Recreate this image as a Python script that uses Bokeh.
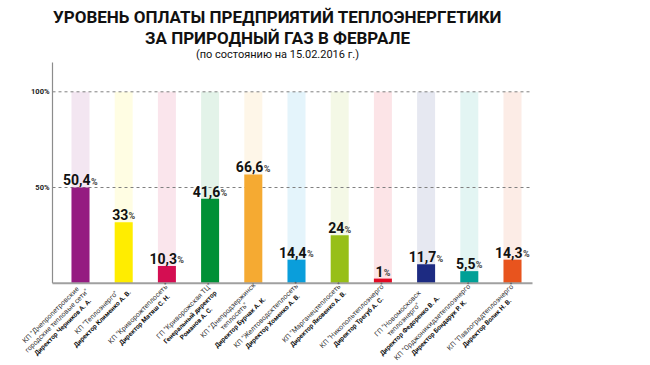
import math
from bokeh.plotting import figure
from bokeh.models import Range1d
from bokeh.core.properties import value
from bokeh.embed import file_html
from bokeh.resources import INLINE

# ---------------- data ----------------
company_lines = [
    ['КП "Днепропетровские', 'городские тепловые сети"'],
    ['КП "Теплоэнерго"'],
    ['КП "Криворожтеплосеть"'],
    ['ГП "Криворожская ТЦ"'],
    ['КП "Днепродзержинск', 'теплосеть"'],
    ['КП "Желтоводсктеплосеть"'],
    ['КП "Марганецтеплосеть"'],
    ['КП "Никопольтеплоэнерго"'],
    ['ГП "Новомосковск', 'теплоэнерго"'],
    ['КП "Орджоникидзетеплоэнерго"'],
    ['КП "Павлоградтеплоэнерго"'],
]
director_lines = [
    ['Директор Черников А. А.'],
    ['Директор Клименко А. В.'],
    ['Директор Матяш С. Н.'],
    ['Генеральный директор', 'Романов А. С.'],
    ['Директор Бурчак А. К.'],
    ['Директор Хоменко А. В.'],
    ['Директор Яковенко А. В.'],
    ['Директор Трегуб А. С.'],
    ['Директор Федоренко В. А.'],
    ['Директор Бондарук Р. К.'],
    ['Директор Волик Н. В.'],
]
value_labels = ["50,4", "33", "10,3", "41,6", "66,6", "14,4", "24", "1", "11,7", "5,5", "14,3"]
# bar heights as drawn in the picture (percent of the 100% line)
bar_levels = [50.0, 31.9, 9.0, 44.1, 56.8, 12.3, 25.0, 2.4, 9.9, 6.3, 12.3]
bar_colors = ["#951B81", "#FFED00", "#D40E52", "#009036", "#F5AA32", "#0A9EDB",
              "#97BF18", "#E30A24", "#1D2B82", "#00A096", "#E8541E"]
y_ticks = [50, 100]
y_tick_labels = ["50%", "100%"]
title_lines = ["УРОВЕНЬ ОПЛАТЫ ПРЕДПРИЯТИЙ ТЕПЛОЭНЕРГЕТИКИ", "ЗА ПРИРОДНЫЙ ГАЗ В ФЕВРАЛЕ"]
subtitle = "(по состоянию на 15.02.2016 г.)"

# ---------------- layout ----------------
W, H = 650, 365
PAGE_OFF = 0
X0_PAGE, PX_X = 80.0, 43.2      # page x of first bar, px per category
Y0_PAGE, PX_Y = 282.7, 1.914    # page y of 0 %, px per percent

def dx(px):
    return px / PX_X

def dy(px):
    return px / PX_Y

def xp(page_x):
    return (page_x - X0_PAGE) / PX_X

def yp(page_y):
    return (Y0_PAGE - page_y) / PX_Y

x_start = xp(PAGE_OFF)
x_end = x_start + W / PX_X
y_end = yp(PAGE_OFF)
y_start = y_end - H / PX_Y

p = figure(width=W, height=H, x_range=Range1d(x_start, x_end), y_range=Range1d(y_start, y_end),
           output_backend="svg", toolbar_location=None, min_border=0,
           x_axis_location=None, y_axis_location=None)
p.grid.visible = False
p.outline_line_color = None
p.background_fill_color = "white"

n = len(bar_levels)
xs = list(range(n))
bar_w = 18 / PX_X
axis_x = xp(52)
axis_end = xp(532)

# background columns up to 100 %
p.vbar(x=xs, bottom=0, top=[100] * n, width=bar_w, fill_color=bar_colors, fill_alpha=0.11, line_color=None)

# dashed reference lines
p.segment(x0=[axis_x] * len(y_ticks), y0=y_ticks, x1=[axis_end] * len(y_ticks), y1=y_ticks,
          line_color="#808080", line_width=1, line_dash="3 3")

# bars
p.vbar(x=xs, bottom=0, top=bar_levels, width=bar_w, fill_color=bar_colors, line_color=None)

# axis lines
p.segment(x0=[axis_x], y0=[0], x1=[axis_x], y1=[yp(62)], line_color="#8c8c8c", line_width=1.2)
p.segment(x0=[axis_x], y0=[0], x1=[axis_end], y1=[0], line_color="#a0a0a0", line_width=2)

# tick labels
p.text(x=[xp(49)] * len(y_ticks), y=y_ticks, text=y_tick_labels, text_align="right",
       text_baseline="middle", text_font=value("Roboto"), text_font_style="bold",
       text_font_size="7.5px", text_color="#222222")

# value labels: number + small percent sign
NUM_SIZE, PCT_SIZE = 14, 9
def num_width(s):
    w = 0
    for ch in s:
        w += 0.226 if ch == "," else 0.5615
    return w * NUM_SIZE
pct_w = 0.727 * PCT_SIZE
num_x, pct_x, num_y, pct_y = [], [], [], []
for i, s in enumerate(value_labels):
    wn = num_width(s)
    split = (wn - pct_w) / 2
    num_x.append(i + dx(split))
    pct_x.append(i + dx(split + 0.3))
    num_y.append(bar_levels[i] + dy(2.5 + 0.5 * NUM_SIZE * 0.72))
    pct_y.append(bar_levels[i] + dy(2.5 + 0.5 * PCT_SIZE * 0.72))
p.text(x=num_x, y=num_y, text=value_labels, text_align="right", text_baseline="middle",
       text_font=value("Roboto"), text_font_style="bold", text_font_size=f"{NUM_SIZE}px",
       text_color="#111111")
p.text(x=pct_x, y=pct_y, text=["%"] * n, text_align="left", text_baseline="middle",
       text_font=value("Roboto"), text_font_style="bold", text_font_size=f"{PCT_SIZE}px",
       text_color="#444444")

# rotated category labels, one text per line
LAB_FONT = "Roboto"
CO_SIZE, DIR_SIZE = 7, 6.5
LINE_H = 8.5
def lab_width(s, size, bold):
    w = 0
    for ch in s:
        if ch in " .,":
            w += 0.25
        elif ch == '"':
            w += 0.33
        elif ch.isupper():
            w += 0.64
        elif ch in "шщжмюыф":
            w += 0.75
        elif ch in "гтзсл":
            w += 0.47
        else:
            w += 0.54
    return w * size * (1.04 if bold else 1.0)

c45 = math.cos(math.pi / 4)
lx, ly, ltxt, lbold = [], [], [], []
for i in range(n):
    lines = [(s, False) for s in company_lines[i]] + [(s, True) for s in director_lines[i]]
    wmax = max(lab_width(s, DIR_SIZE if b else CO_SIZE, b) for s, b in lines)
    cx = X0_PAGE + PX_X * i - 3
    cy = 282
    tx = cx - wmax / 2 * c45
    ty = cy + wmax / 2 * c45
    for j, (s, b) in enumerate(lines):
        k = (j + 0.5) * LINE_H
        lx.append(xp(tx + k * c45)); ly.append(yp(ty + k * c45)); ltxt.append(s); lbold.append(b)

def pick(flag):
    idx = [m for m in range(len(ltxt)) if lbold[m] == flag]
    return [lx[m] for m in idx], [ly[m] for m in idx], [ltxt[m] for m in idx]

ax_, ay_, at_ = pick(False)
p.text(x=ax_, y=ay_, text=at_, angle=math.pi / 4, text_align="center", text_baseline="middle",
       text_font=value(LAB_FONT), text_font_size=f"{CO_SIZE}px", text_color="#333333")
bx_, by_, bt_ = pick(True)
p.text(x=bx_, y=by_, text=bt_, angle=math.pi / 4, text_align="center", text_baseline="middle",
       text_font=value(LAB_FONT), text_font_style="bold", text_font_size=f"{DIR_SIZE}px",
       text_color="#111111")

# titles
tcx = xp(277)
p.text(x=[tcx, tcx], y=[yp(16), yp(37)], text=title_lines, text_align="center", text_baseline="middle",
       text_font=value("Roboto"), text_font_style="bold", text_font_size="17px",
       text_color="#111111")
p.text(x=[tcx], y=[yp(54)], text=[subtitle], text_align="center", text_baseline="middle",
       text_font=value("Roboto"), text_font_size="11px", text_color="#111111")

open("out.html", "w").write(file_html(p, INLINE))
